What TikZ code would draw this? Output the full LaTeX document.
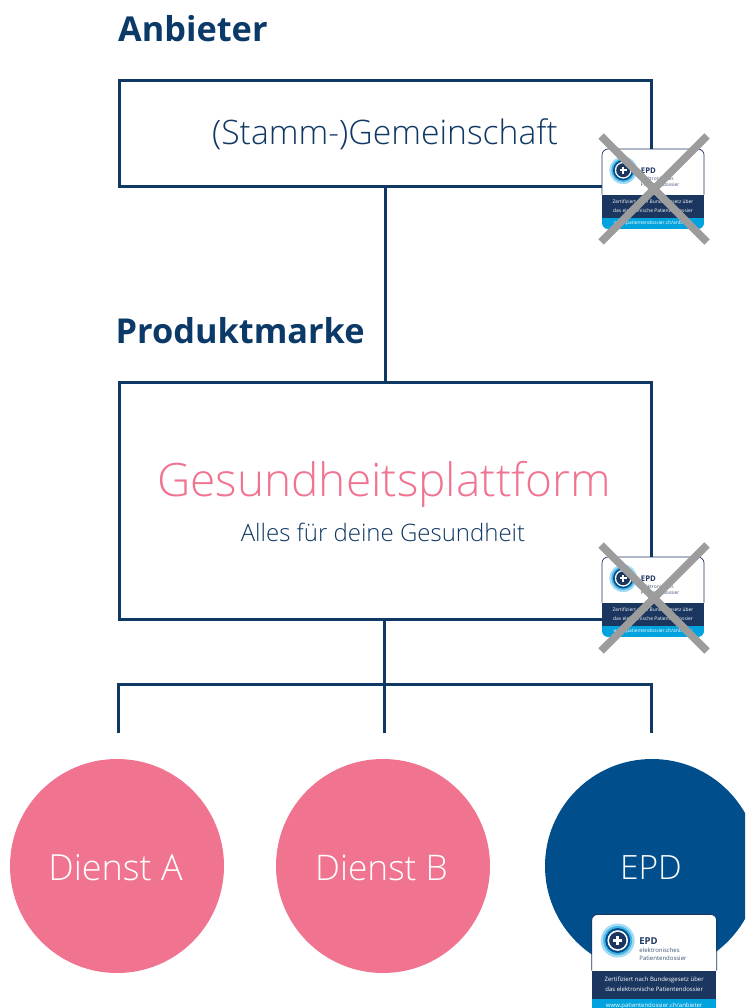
\documentclass[tikz,border=0pt]{standalone}
\usepackage{fontspec}
\setmainfont{Open Sans}
\newfontfamily\lightf{Open Sans Light}
\usetikzlibrary{calc}
\definecolor{navy}{HTML}{0F3864}
\definecolor{title}{HTML}{0B3A68}
\definecolor{pinkc}{HTML}{F07390}
\definecolor{epdblue}{HTML}{004F8C}
\definecolor{band}{HTML}{1B365F}
\definecolor{cyanb}{HTML}{00A3DE}
\definecolor{ringc}{HTML}{A5DCF3}
\definecolor{ringm}{HTML}{45B6E6}
\definecolor{crossg}{HTML}{9C9C9C}
\tikzset{
  x=1pt,y=-1pt,
  boxn/.style={draw=navy,line width=3pt,inner sep=0},
  link/.style={draw=navy,line width=3pt},
  heading/.style={font=\bfseries\fontsize{34.3}{36}\selectfont,text=title,inner sep=0,anchor=base west},
  circ/.style={circle,minimum size=214pt,inner sep=0,text=white},
  btext/.style={inner sep=0,transform shape},
  crossl/.style={draw=crossg,line width=7.5pt},
  pics/badge/.style={code={
    \begin{scope}
      \clip[rounded corners=6] (0,0) rectangle (125,98);
      \fill[white] (0,0) rectangle (125,56);
      \fill[band] (0,56) rectangle (125,84);
      \fill[cyanb] (0,84) rectangle (125,98);
    \end{scope}
    \draw[band,line width=.7pt,rounded corners=6] (0,56) -- (0,0) -- (125,0) -- (125,56);
    \fill[ringc] (26,26) circle (17);
    \fill[ringm] (26,26) circle (14.5);
    \fill[epdblue] (26,26) circle (12.5);
    \fill[white] (26,26) circle (10.3);
    \fill[band] (26,26) circle (8.6);
    \fill[white] (21.7,24.6) rectangle (30.3,27.4);
    \fill[white] (24.6,21.7) rectangle (27.4,30.3);
    \node[btext,anchor=base west,text=band,font=\bfseries\fontsize{9.5}{10}\selectfont] at (47.5,30) {EPD};
    \node[btext,anchor=base west,text=band!85,font=\fontsize{6}{7}\selectfont] at (47.5,38) {elektronisches};
    \node[btext,anchor=base west,text=band!85,font=\fontsize{6}{7}\selectfont] at (47.5,46) {Patientendossier};
    \node[btext,text=white,font=\fontsize{6}{7}\selectfont] at (62.5,65) {Zertifiziert nach Bundesgesetz über};
    \node[btext,text=white,font=\fontsize{6}{7}\selectfont] at (62.5,75) {das elektronische Patientendossier};
    \node[btext,text=white,font=\fontsize{6}{7}\selectfont] at (62.5,91) {www.patientendossier.ch/anbieter};
  }}
}
\begin{document}
\begin{tikzpicture}
\useasboundingbox (0,0) rectangle (745,1008);
\clip (0,0) rectangle (745,1008);
\node[heading] (hAnb) at (118,42) {Anbieter};
\node[heading] (hProd) at (115.5,343) {Produktmarke};

\node[boxn,minimum width=532pt,minimum height=106pt] (gem) at (385,134) {};
\node[boxn,minimum width=532pt,minimum height=237pt] (plat) at (385,500.5) {};
\node[inner sep=0,text=navy,font=\lightf\fontsize{33.7}{36}\selectfont] (gemt) at (385,134.5) {(Stamm-)Gemeinschaft};
\node[inner sep=0,text=pinkc,font=\lightf\fontsize{46}{50}\selectfont] (platt) at (384,484) {Gesundheitsplattform};
\node[inner sep=0,text=navy,font=\lightf\fontsize{24}{26}\selectfont] (platsub) at (383,532) {Alles für deine Gesundheit};

\coordinate (gemB) at (385,187);
\coordinate (platT) at (385,382);
\draw[link] (gemB) -- (platT);
\coordinate (platB) at (384,619);
\coordinate (tJ) at (384,684);
\coordinate (tL) at (118,684);
\coordinate (tR) at (651,684);
\coordinate (dL) at (118,733);
\coordinate (dM) at (384,733);
\coordinate (dR) at (651,733);
\draw[link] (platB) -- (tJ);
\draw[link,line cap=butt] (dL) -- (tL) -- (tR) -- (dR);
\draw[link] (tJ) -- (dM);

\node[circ,fill=pinkc] (cA) at (117,866) {};
\node[circ,fill=pinkc] (cB) at (383,866) {};
\node[circ,fill=epdblue] (cE) at (652,866) {};
\node[inner sep=0,text=white,font=\lightf\fontsize{36}{38}\selectfont] (tA) at (115.5,868) {Dienst A};
\node[inner sep=0,text=white,font=\lightf\fontsize{35.3}{38}\selectfont] (tB) at (381.5,868) {Dienst B};
\node[inner sep=0,text=white,font=\lightf\fontsize{33.5}{38}\selectfont] (tE) at (651,868) {EPD};

\begin{scope}[shift={(591.7,914.5)}] \pic {badge}; \end{scope}
\begin{scope}[shift={(602,149)},scale=.816] \pic[transform shape] {badge}; \end{scope}
\begin{scope}[shift={(602,557)},scale=.816] \pic[transform shape] {badge}; \end{scope}

\coordinate (x1a) at (601,136); \coordinate (x1b) at (707,242);
\coordinate (x1c) at (707,136); \coordinate (x1d) at (601,242);
\draw[crossl] (x1a) -- (x1b); \draw[crossl] (x1c) -- (x1d);
\coordinate (x2a) at (601,545); \coordinate (x2b) at (707,651);
\coordinate (x2c) at (707,545); \coordinate (x2d) at (601,651);
\draw[crossl] (x2a) -- (x2b); \draw[crossl] (x2c) -- (x2d);
\end{tikzpicture}
\end{document}
